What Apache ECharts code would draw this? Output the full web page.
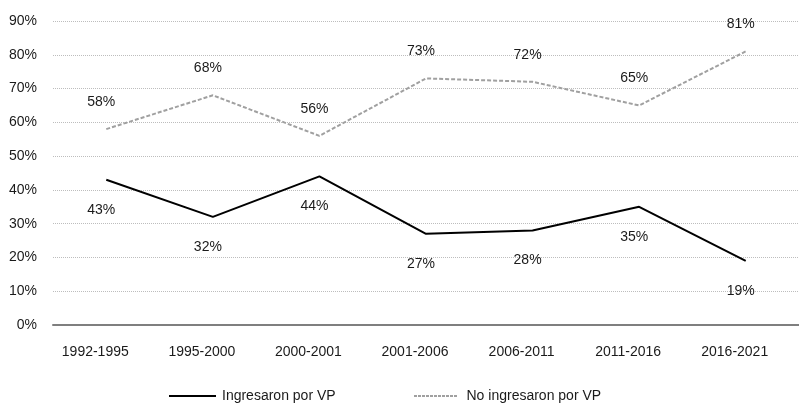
<!DOCTYPE html>
<html>
<head>
<meta charset="utf-8">
<script src="https://cdn.jsdelivr.net/npm/echarts@6/dist/echarts.min.js"></script>
<style>
  html, body { margin: 0; padding: 0; background: #ffffff; }
  #chart { width: 799px; height: 405px; }
</style>
</head>
<body>
<div id="chart"></div>
<script>
// Periods on the horizontal axis
const periods = ['1992-1995', '1995-2000', '2000-2001', '2001-2006', '2006-2011', '2011-2016', '2016-2021'];
// Share (%) per period
const ingresaronVP = [43, 32, 44, 27, 28, 35, 19];
const noIngresaronVP = [58, 68, 56, 73, 72, 65, 81];
// Series names
const nameIn = 'Ingresaron por VP';
const nameNo = 'No ingresaron por VP';

const FONT = 'Liberation Sans';
const TEXT = '#1a1a1a';

// Dashed legend key: short dashes laid out along a 44 x 2 box
const KEY_W = 44;
let dashPath = 'path://';
for (let x = 0; x < KEY_W; x += 4) {
  const w = Math.min(3, KEY_W - x);
  dashPath += 'M' + x + ',0h' + w + 'v2h-' + w + 'z';
}

const chart = echarts.init(document.getElementById('chart'), null, { renderer: 'canvas' });

chart.setOption({
  animation: false,
  backgroundColor: '#ffffff',
  textStyle: { fontFamily: FONT },
  grid: { left: 53, right: -8, top: 21, bottom: 80, containLabel: false },
  legend: [
    {
      data: [nameIn],
      icon: 'rect',
      left: 169,
      top: 389,
      padding: 0,
      itemWidth: 47,
      itemHeight: 2,
      textStyle: { fontFamily: FONT, fontSize: 14, color: TEXT, padding: [0, 0, 0, 1] }
    },
    {
      data: [nameNo],
      icon: dashPath,
      left: 414,
      top: 389,
      padding: 0,
      itemWidth: KEY_W,
      itemHeight: 2,
      textStyle: { fontFamily: FONT, fontSize: 14, color: TEXT, padding: [0, 0, 0, 4] }
    }
  ],
  xAxis: {
    type: 'category',
    data: periods,
    boundaryGap: true,
    axisLine: { show: true, lineStyle: { color: '#7f7f7f', width: 2 } },
    axisTick: { show: false },
    axisLabel: {
      fontFamily: FONT,
      fontSize: 14,
      color: TEXT,
      margin: 20,
      padding: [0, 22, 0, 0]
    },
    splitLine: { show: false }
  },
  yAxis: {
    type: 'value',
    min: 0,
    max: 90,
    interval: 10,
    axisLine: { show: false },
    axisTick: { show: false },
    axisLabel: {
      fontFamily: FONT,
      fontSize: 14,
      color: TEXT,
      margin: 16,
      formatter: '{value}%'
    },
    splitLine: { show: true, lineStyle: { color: '#bdbdbd', type: [1, 1], width: 1 } }
  },
  series: [
    {
      name: nameIn,
      type: 'line',
      data: ingresaronVP,
      symbol: 'circle',
      symbolSize: 0,
      lineStyle: { color: '#000000', width: 2 },
      itemStyle: { color: '#000000' },
      label: {
        show: true,
        position: 'bottom',
        distance: 23,
        offset: [-5, 0],
        formatter: '{c}%',
        fontFamily: FONT,
        fontSize: 14,
        color: TEXT
      },
      z: 3
    },
    {
      name: nameNo,
      type: 'line',
      data: noIngresaronVP,
      symbol: 'circle',
      symbolSize: 0,
      lineStyle: { color: '#a0a0a0', width: 2, type: [4, 2] },
      itemStyle: { color: '#a0a0a0' },
      label: {
        show: true,
        position: 'top',
        distance: 20,
        offset: [-5, 0],
        formatter: '{c}%',
        fontFamily: FONT,
        fontSize: 14,
        color: TEXT
      },
      z: 2
    }
  ]
});
</script>
</body>
</html>
